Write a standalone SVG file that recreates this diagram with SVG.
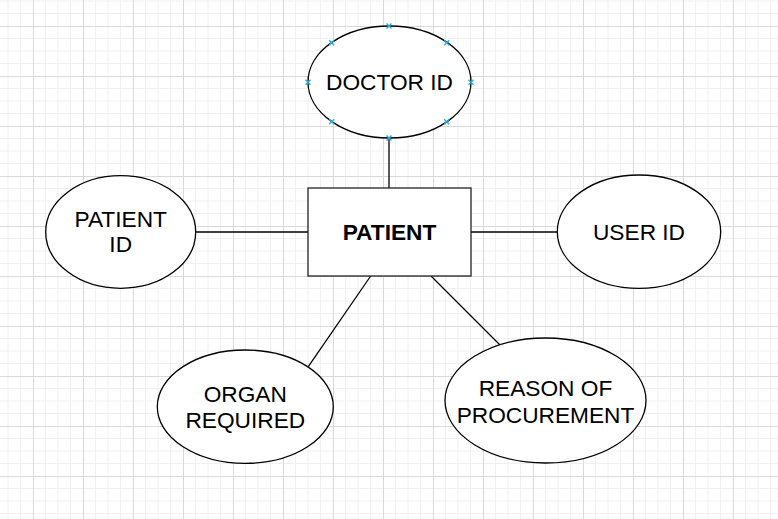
<svg xmlns="http://www.w3.org/2000/svg" width="778" height="519" viewBox="0 0 778 519">
<defs>
<pattern id="grid" patternUnits="userSpaceOnUse" x="33" y="26" width="50" height="50">
<path d="M12.5 0V50M25 0V50M37.5 0V50M0 12.5H50M0 25H50M0 37.5H50" stroke="#f0f0f0" stroke-width="1" fill="none"/>
<path d="M0.5 0V50M0 0.5H50" stroke="#d9d9d9" stroke-width="1" fill="none"/>
</pattern>
<style>
.shape{fill:#ffffff;stroke:#000000;stroke-width:1.3}
.box{fill:#ffffff;stroke:#222222;stroke-width:1.3}
.edge{stroke:#000000;stroke-width:1.3;fill:none}
.lbl{font-family:"Liberation Sans",Arial,sans-serif;font-size:22.7px;fill:#000000;text-anchor:middle}
.bold{font-weight:bold}
.mk{stroke:#29abe2;stroke-width:1.4;fill:none}
</style>
</defs>
<rect width="778" height="519" fill="#ffffff"/>
<rect width="778" height="519" fill="url(#grid)"/>
<g id="connectors">
<line class="edge" x1="389" y1="138" x2="389" y2="188"/>
<line class="edge" x1="196" y1="232" x2="308" y2="232"/>
<line class="edge" x1="471" y1="232" x2="557" y2="232"/>
<line class="edge" x1="370.7" y1="276" x2="308.3" y2="366.7"/>
<line class="edge" x1="431" y1="276" x2="500" y2="345"/>
</g>
<g id="doctor-id">
<ellipse class="shape" cx="389.5" cy="82" rx="81.5" ry="56"/>
<text class="lbl" x="389.5" y="90">DOCTOR ID</text>
<path class="mk" d="M386.5 23.5l5 5M391.5 23.5l-5 5M329.2 40.2l5 5M334.2 40.2l-5 5M444.2 40.2l5 5M449.2 40.2l-5 5M305.5 79.8l5 5M310.5 79.8l-5 5M468.5 79.8l5 5M473.5 79.8l-5 5M329.2 119.2l5 5M334.2 119.2l-5 5M444.2 119.2l5 5M449.2 119.2l-5 5M386.5 135.5l5 5M391.5 135.5l-5 5"/>
</g>
<g id="patient">
<rect class="box" x="308" y="188" width="163" height="88"/>
<text class="lbl bold" x="389.5" y="240">PATIENT</text>
</g>
<g id="patient-id">
<ellipse class="shape" cx="120.7" cy="232" rx="75" ry="56.3"/>
<text class="lbl" x="120.7" y="226.7">PATIENT</text>
<text class="lbl" x="120.7" y="252">ID</text>
</g>
<g id="user-id">
<ellipse class="shape" cx="639" cy="231.7" rx="81.7" ry="56.7"/>
<text class="lbl" x="639" y="239.5">USER ID</text>
</g>
<g id="organ-required">
<ellipse class="shape" cx="245.3" cy="406.7" rx="88" ry="56.7"/>
<text class="lbl" x="245.3" y="401.7">ORGAN</text>
<text class="lbl" x="245.3" y="427.5">REQUIRED</text>
</g>
<g id="reason-of-procurement">
<ellipse class="shape" cx="545.5" cy="400.5" rx="100.5" ry="62.5"/>
<text class="lbl" x="545.5" y="395.5">REASON OF</text>
<text class="lbl" x="545.5" y="422.5">PROCUREMENT</text>
</g>
</svg>
